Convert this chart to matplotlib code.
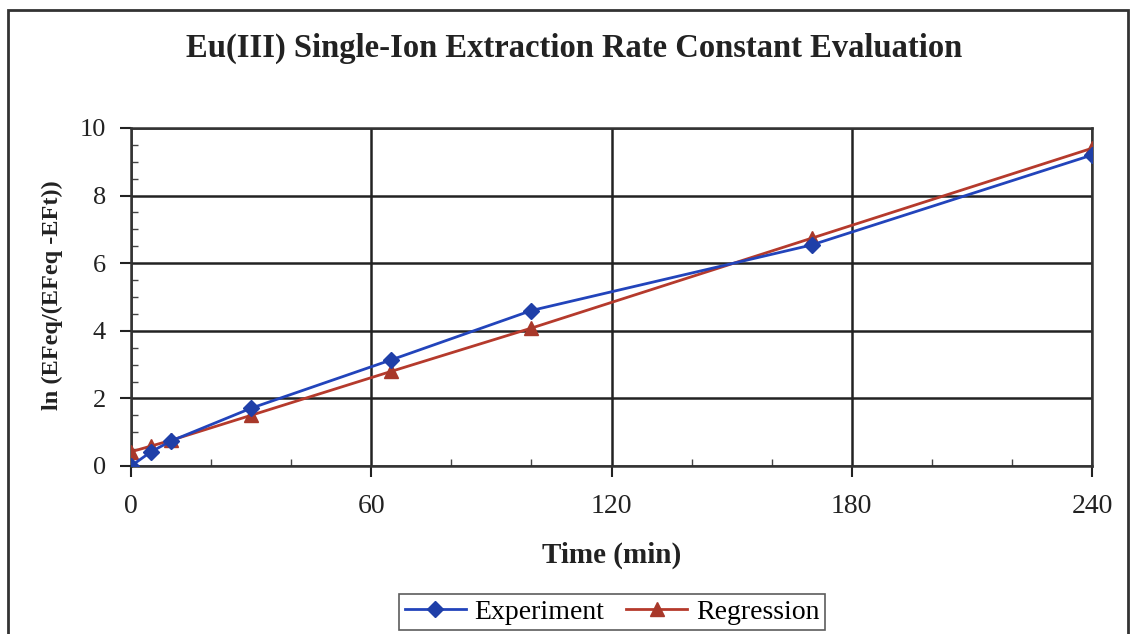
import matplotlib.pyplot as plt
from matplotlib.patches import Rectangle
from matplotlib.ticker import MultipleLocator

# data
time_exp = [0, 5, 10, 30, 65, 100, 170, 240]
ln_exp = [0.0, 0.42, 0.74, 1.71, 3.14, 4.60, 6.54, 9.20]
time_reg = [0, 5, 10, 30, 65, 100, 170, 240]
ln_reg = [0.42, 0.59, 0.76, 1.50, 2.80, 4.08, 6.74, 9.40]

x_ticks = [0, 60, 120, 180, 240]
y_ticks = [0, 2, 4, 6, 8, 10]

plt.rcParams['font.family'] = ['Liberation Serif', 'DejaVu Serif']

fig = plt.figure(figsize=(11.33, 6.34), dpi=100)
fig.patch.set_facecolor('white')

# outer chart frame
fig.patches.append(Rectangle((8 / 1133, -0.02), 1120 / 1133, 1 - 10 / 634 + 0.02,
                             transform=fig.transFigure, fill=False,
                             edgecolor='#333333', linewidth=2))

ax = fig.add_axes([131 / 1133, 1 - 466 / 634, (1092 - 131) / 1133, (466 - 128) / 634])

ax.plot(time_exp, ln_exp, color='#2244bb', linewidth=2, marker='D', markersize=8,
        markerfacecolor='#1f3fa8', markeredgecolor='#1f3fa8', label='Experiment', zorder=4)
ax.plot(time_reg, ln_reg, color='#b53a2c', linewidth=2, marker='^', markersize=10,
        markerfacecolor='#a8382a', markeredgecolor='#a8382a', label='Regression', zorder=3)

ax.set_xlim(0, 240)
ax.set_ylim(0, 10)
ax.set_xticks(x_ticks)
ax.set_yticks(y_ticks)
ax.xaxis.set_minor_locator(MultipleLocator(20))
ax.yaxis.set_minor_locator(MultipleLocator(0.5))
ax.grid(True, which='major', color='#222222', linewidth=1.8)
ax.set_axisbelow(True)

for s in ax.spines.values():
    s.set_color('#333333')
    s.set_linewidth(1.8)

ax.tick_params(which='major', direction='out', length=8, width=1.5, colors='#222222')
ax.tick_params(which='minor', direction='in', length=5, width=1, colors='#444444')
ax.tick_params(axis='x', which='major', labelsize=20, pad=12)
ax.tick_params(axis='y', which='major', labelsize=19, pad=10)

fig.text(574 / 1133, 1 - 48 / 634, 'Eu(III) Single-Ion Extraction Rate Constant Evaluation',
         ha='center', va='center', fontsize=23.5, fontweight='bold', color='#222222')
fig.text(612 / 1133, 1 - 555 / 634, 'Time (min)', ha='center', va='center',
         fontsize=21, fontweight='bold', color='#222222')
fig.text(52 / 1133, 1 - 295 / 634, 'ln (EFeq/(EFeq -EFt))', ha='center', va='center',
         rotation=90, fontsize=17.5, fontweight='bold', color='#222222')

leg = fig.legend(loc='center', bbox_to_anchor=(612 / 1133, 1 - 612 / 634), ncol=2,
                 fontsize=20, frameon=True, fancybox=False, edgecolor='#333333',
                 handlelength=2.2, columnspacing=0.8, handletextpad=0.3,
                 borderpad=0.2)
leg.get_frame().set_linewidth(1.2)

fig.savefig('out.png', dpi=100, facecolor='white')
